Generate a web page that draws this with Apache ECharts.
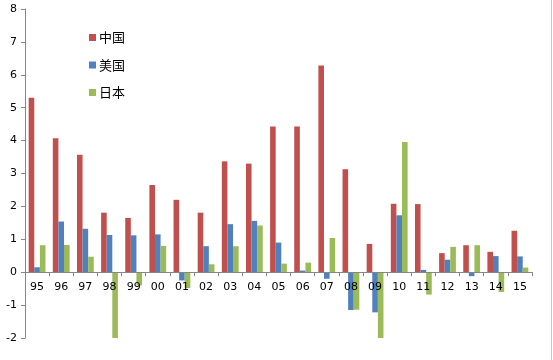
<!DOCTYPE html>
<html><head><meta charset="utf-8">
<script src="https://cdn.jsdelivr.net/npm/echarts@6/dist/echarts.min.js"></script>
<style>html,body{margin:0;padding:0;background:#fff}#c{width:553px;height:360px}</style>
</head><body><div id="c"></div>
<script>
var categories = ['95','96','97','98','99','00','01','02','03','04','05','06','07','08','09','10','11','12','13','14','15'];
var china = [5.3,4.07,3.57,1.81,1.65,2.65,2.2,1.81,3.37,3.3,4.43,4.43,6.28,3.13,0.86,2.08,2.07,0.58,0.82,0.62,1.26];
var usa   = [0.15,1.54,1.32,1.13,1.12,1.15,-0.25,0.79,1.46,1.56,0.9,0.05,-0.2,-1.15,-1.22,1.73,0.07,0.38,-0.12,0.49,0.48];
var japan = [0.82,0.83,0.47,-2.5,-0.4,0.8,-0.48,0.24,0.79,1.42,0.26,0.29,1.04,-1.14,-2.5,3.96,-0.68,0.77,0.82,-0.6,0.14];
var yTicks = {min:-2, max:8, interval:1};

var chart = echarts.init(document.getElementById('c'), null, {renderer:'canvas'});
var axisGray = '#868686';
function bar(name, data, color){
  return {name:name, type:'bar', data:data, barWidth:5.6, barGap:'0%', itemStyle:{color:color}, clip:true, z:2};
}
chart.setOption({
  animation:false,
  backgroundColor:'#fff',
  textStyle:{fontFamily:'"Noto Sans CJK SC", "DejaVu Sans", sans-serif'},
  grid:{left:25, right:21, top:9, bottom:22, containLabel:false},
  graphic:[{type:'line', shape:{x1:551.5, y1:0, x2:551.5, y2:360}, style:{stroke:'#c8c8c8', lineWidth:1}, silent:true}],
  legend:{
    orient:'vertical', left:84, top:26, itemGap:14.5,
    itemWidth:7, itemHeight:7, icon:'rect',
    textStyle:{fontSize:13, color:'#000', fontFamily:'"Noto Sans CJK SC", sans-serif', padding:[0,0,0,-2]},
    data:['中国','美国','日本']
  },
  xAxis:{
    type:'category', data:categories, boundaryGap:true, z:10,
    axisLine:{onZero:true, lineStyle:{color:axisGray, width:1}},
    axisTick:{show:true, alignWithLabel:false, length:4, lineStyle:{color:axisGray}},
    axisLabel:{color:'#000', fontSize:11, margin:-56, fontFamily:'"DejaVu Sans", sans-serif'},
    splitLine:{show:false}
  },
  yAxis:{
    type:'value', min:yTicks.min, max:yTicks.max, interval:yTicks.interval,
    axisLine:{show:true, lineStyle:{color:axisGray}},
    axisTick:{show:true, length:4, lineStyle:{color:axisGray}},
    axisLabel:{color:'#000', fontSize:11, margin:8, fontFamily:'"DejaVu Sans", sans-serif'},
    splitLine:{show:false}
  },
  series:[bar('中国', china, '#C0504D'), bar('美国', usa, '#4F81BD'), bar('日本', japan, '#9BBB59')]
});
</script></body></html>
